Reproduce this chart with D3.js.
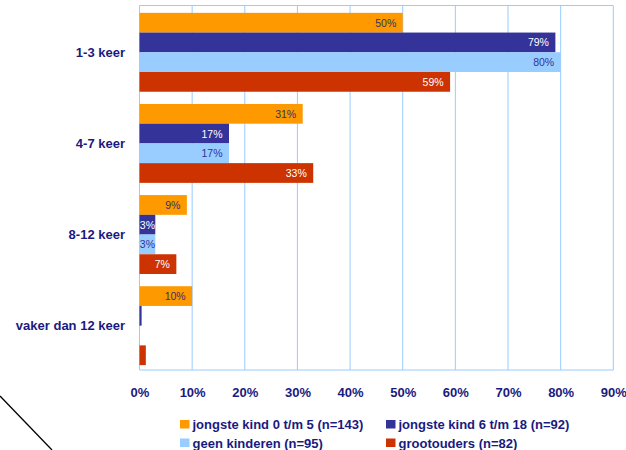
<!DOCTYPE html>
<html><head><meta charset="utf-8">
<script src="https://cdn.jsdelivr.net/npm/d3@7"></script>
<style>body{margin:0;background:#fff}svg{display:block}</style>
</head><body>
<script>
const categories = ["1-3 keer", "4-7 keer", "8-12 keer", "vaker dan 12 keer"];
const seriesNames = ["jongste kind 0 t/m 5 (n=143)", "jongste kind 6 t/m 18 (n=92)", "geen kinderen (n=95)", "grootouders (n=82)"];
const seriesColors = ["#ff9900", "#333399", "#99ccff", "#cc3300"];
const labelColors = ["#333366", "#ffffff", "#333399", "#ffffff"];
const jongste0_5 = [50, 31, 9, 10];
const jongste6_18 = [79, 17, 3, 0.4];
const geenKinderen = [80, 17, 3, 0];
const grootouders = [59, 33, 7, 1.2];
const valueLabels = [
  ["50%", "31%", "9%", "10%"],
  ["79%", "17%", "3%", ""],
  ["80%", "17%", "3%", ""],
  ["59%", "33%", "7%", ""]
];
const ticks = [0, 10, 20, 30, 40, 50, 60, 70, 80, 90];
const series = [jongste0_5, jongste6_18, geenKinderen, grootouders];

(function () {
const W = 626, H = 450;
const svg = d3.select("body").append("svg").attr("width", W).attr("height", H);
const mL = 139.5, mR = 613.3, mT = 5.5, mB = 370;
const x = d3.scaleLinear().domain([0, 90]).range([mL, mR]);
const y = d3.scaleBand().domain(categories).range([mT, mB]);
const inner = d3.scaleBand().domain(d3.range(4)).range([0, y.bandwidth()]).paddingOuter(0.31).align(0.6);
const font = "Liberation Sans, Arial, sans-serif";

// grid
svg.append("g").selectAll("line").data(ticks).join("line")
  .attr("x1", d => x(d)).attr("x2", d => x(d)).attr("y1", mT).attr("y2", mB)
  .attr("stroke", "#99ccff").attr("stroke-width", 1);
svg.append("line").attr("x1", mL).attr("x2", mR).attr("y1", mT).attr("y2", mT).attr("stroke", "#99ccff");
svg.append("line").attr("x1", mL).attr("x2", mR).attr("y1", mB).attr("y2", mB).attr("stroke", "#99ccff");

// bars
series.forEach((vals, si) => {
  const g = svg.append("g");
  g.selectAll("rect").data(vals).join("rect")
    .attr("x", x(0))
    .attr("y", (d, i) => y(categories[i]) + inner(si))
    .attr("width", d => x(d) - x(0))
    .attr("height", inner.bandwidth())
    .attr("fill", seriesColors[si]);
  g.selectAll("text").data(vals).join("text")
    .attr("x", d => Math.max(x(d) - 6.5, x(0) + 15.5))
    .attr("y", (d, i) => y(categories[i]) + inner(si) + inner.bandwidth() / 2 + 4)
    .attr("text-anchor", "end")
    .attr("font-family", font)
    .attr("font-size", 10.5)
    .attr("fill", labelColors[si])
    .text((d, i) => valueLabels[si][i]);
});

// category labels
svg.append("g").selectAll("text").data(categories).join("text")
  .attr("x", 125).attr("y", d => y(d) + y.bandwidth() / 2 + 5.5)
  .attr("text-anchor", "end")
  .attr("font-family", font)
  .attr("font-size", 13).attr("font-weight", "bold").attr("fill", "#1a1a80")
  .text(d => d);

// x axis tick labels
const axis = d3.axisBottom(x).tickValues(ticks).tickSize(0).tickPadding(0).tickFormat(d => d + "%");
const ag = svg.append("g").attr("transform", `translate(0,${mB + 26.5})`).call(axis);
ag.select(".domain").remove();
ag.selectAll("text").attr("font-family", font)
  .attr("font-size", 13).attr("font-weight", "bold").attr("fill", "#1a1a80").attr("dy", 0);

// legend
const legPos = [[180, 429], [386, 429], [180, 447.5], [386, 447.5]];
seriesNames.forEach((n, i) => {
  const [lx, ly] = legPos[i];
  svg.append("rect").attr("x", lx).attr("y", ly - 9).attr("width", 9.5).attr("height", 8.5).attr("fill", seriesColors[i]);
  svg.append("text").attr("x", lx + 12.5).attr("y", ly)
    .attr("font-family", font)
    .attr("font-size", 13).attr("font-weight", "bold").attr("fill", "#1a1a80").text(n);
});

// decorative diagonal line
svg.append("line").attr("x1", 0).attr("y1", 396).attr("x2", 52).attr("y2", 450)
  .attr("stroke", "#000").attr("stroke-width", 1.3);
})();
</script>
</body></html>
